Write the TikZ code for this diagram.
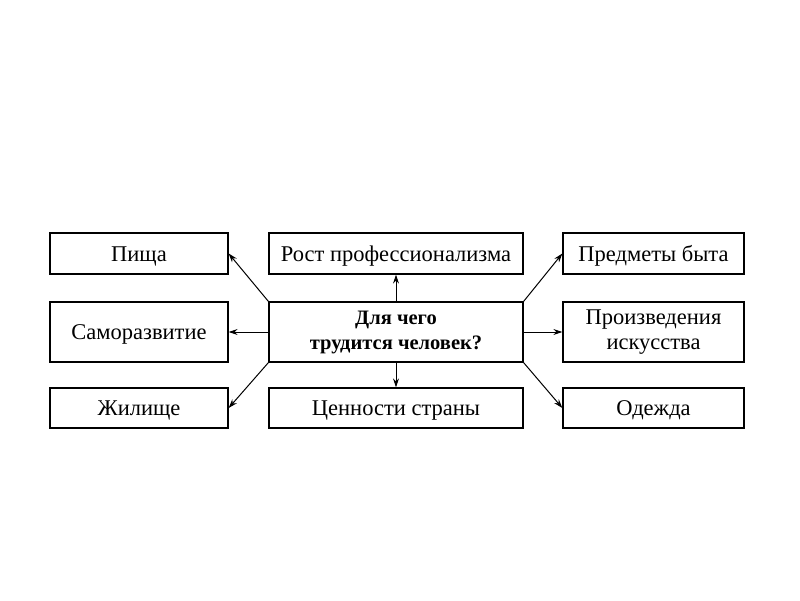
\documentclass[tikz,border=0pt]{standalone}
\usepackage{fontspec}
\setmainfont{Liberation Serif}
\usetikzlibrary{arrows.meta}

\begin{document}
\begin{tikzpicture}[x=1pt,y=-1pt,
    box/.style={draw, line width=1.3pt, inner sep=0pt, minimum height=41pt,
        font=\fontsize{22.5}{25}\selectfont, align=center},
    oneline/.style={box, text height=15pt, text depth=0pt},
    link/.style={line width=1pt, -{Stealth[length=9pt,width=6pt]}}]
    \useasboundingbox[fill=white] (0,0) rectangle (800,600);
    % center
    \node[box, minimum width=254pt, minimum height=60pt, font=\fontsize{20.5}{25}\selectfont\bfseries] (goal) at (396,332) {Для чего\\трудится человек?};
    \node[oneline, minimum width=254pt] (prof) at (396,253.5) {Рост профессионализма};
    \node[oneline, minimum width=254pt, minimum height=40pt] (values) at (396,408) {Ценности страны};
    % left column
    \node[oneline, minimum width=178pt] (food) at (139,253.5) {Пища};
    \node[oneline, minimum width=178pt, minimum height=60pt] (self) at (139,332) {Саморазвитие};
    \node[oneline, minimum width=178pt, minimum height=40pt] (home) at (139,408) {Жилище};
    % right column
    \node[oneline, minimum width=181pt] (goods) at (653.5,253.5) {Предметы быта};
    \node[box, minimum width=181pt, minimum height=60pt] (art) at (653.5,332) {Произведения\\искусства};
    \node[oneline, minimum width=181pt, minimum height=40pt] (clothes) at (653.5,408) {Одежда};
    % arrows
    \draw[link] (goal.north west) -- (food.east);
    \draw[link] (goal.west) -- (self.east);
    \draw[link] (goal.south west) -- (home.east);
    \draw[link] (goal.north) -- (prof.south);
    \draw[link] (goal.south) -- (values.north);
    \draw[link] (goal.north east) -- (goods.west);
    \draw[link] (goal.east) -- (art.west);
    \draw[link] (goal.south east) -- (clothes.west);
\end{tikzpicture}
\end{document}
